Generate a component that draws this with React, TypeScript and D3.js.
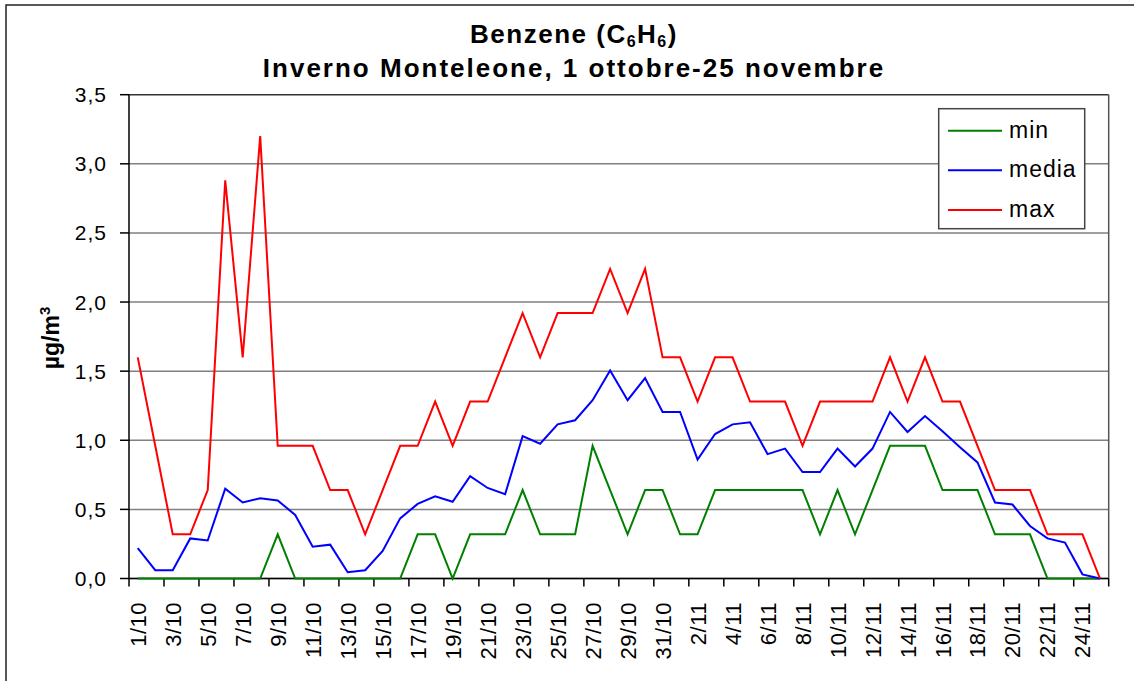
import React from "react";
import * as d3 from "d3";

const categories: string[] = [
  "1/10","2/10","3/10","4/10","5/10","6/10","7/10","8/10","9/10","10/10",
  "11/10","12/10","13/10","14/10","15/10","16/10","17/10","18/10","19/10","20/10",
  "21/10","22/10","23/10","24/10","25/10","26/10","27/10","28/10","29/10","30/10",
  "31/10","1/11","2/11","3/11","4/11","5/11","6/11","7/11","8/11","9/11",
  "10/11","11/11","12/11","13/11","14/11","15/11","16/11","17/11","18/11","19/11",
  "20/11","21/11","22/11","23/11","24/11","25/11"
];

const minValues: number[] = [
  0,0,0,0,0,0,0,0,0.32,0,
  0,0,0,0,0,0,0.32,0.32,0,0.32,
  0.32,0.32,0.64,0.32,0.32,0.32,0.96,0.64,0.32,0.64,
  0.64,0.32,0.32,0.64,0.64,0.64,0.64,0.64,0.64,0.32,
  0.64,0.32,0.64,0.96,0.96,0.96,0.64,0.64,0.64,0.32,
  0.32,0.32,0,0,0,0
];

const mediaValues: number[] = [
  0.22,0.06,0.06,0.29,0.275,0.65,0.55,0.58,0.565,0.46,
  0.23,0.245,0.045,0.06,0.2,0.435,0.54,0.595,0.555,0.74,
  0.655,0.61,1.03,0.975,1.115,1.145,1.29,1.505,1.29,1.45,
  1.205,1.205,0.86,1.045,1.115,1.13,0.9,0.94,0.77,0.77,
  0.94,0.81,0.94,1.205,1.06,1.175,1.065,0.95,0.84,0.55,
  0.535,0.38,0.29,0.26,0.03,0
];

const maxValues: number[] = [
  1.6,0.96,0.32,0.32,0.64,2.88,1.6,3.2,0.96,0.96,
  0.96,0.64,0.64,0.32,0.64,0.96,0.96,1.28,0.96,1.28,
  1.28,1.6,1.92,1.6,1.92,1.92,1.92,2.24,1.92,2.24,
  1.6,1.6,1.28,1.6,1.6,1.28,1.28,1.28,0.96,1.28,
  1.28,1.28,1.28,1.6,1.28,1.6,1.28,1.28,0.96,0.64,
  0.64,0.64,0.32,0.32,0.32,0
];

const yTicks: number[] = [0, 0.5, 1, 1.5, 2, 2.5, 3, 3.5];

const seriesList = [
  { name: "min", values: minValues, color: "#008000" },
  { name: "media", values: mediaValues, color: "#0000FF" },
  { name: "max", values: maxValues, color: "#FF0000" },
];

const FONT = "'Liberation Sans', Arial, sans-serif";

export default function App() {
  const left = 129, right = 1108.7, top = 94.7, bottom = 578.5;
  const x = d3.scaleBand<number>().domain(categories.map((_, i) => i)).range([left, right]).padding(0);
  const bw = x.bandwidth();
  const cx = (i: number) => (x(i) as number) + bw / 2;
  const y = d3.scaleLinear().domain([0, 3.5]).range([bottom, top]);
  const line = d3.line<number>().x((_, i) => cx(i)).y((d) => y(d));

  const boundaryTicks: number[] = [];
  for (let i = 0; i <= categories.length; i += 2) boundaryTicks.push(i);
  const tickX = (i: number) => (i < categories.length ? (x(i) as number) : right);

  const lgX = 938.7, lgY = 108.7, lgW = 146, lgH = 120;

  return (
    <svg width={1134} height={681} style={{ position: "absolute", left: 0, top: 0, background: "#fff" }} fontFamily={FONT}>
      <rect x={0} y={0} width={1134} height={681} fill="#fff" />
      <rect x={6} y={5} width={1140} height={700} fill="none" stroke="#222" strokeWidth={1.5} />

      {/* titles */}
      <text x={574} y={43.3} textAnchor="middle" fontWeight="bold" fontSize={26} letterSpacing={1.5}>
        Benzene (C<tspan fontSize={16} dy={4}>6</tspan><tspan dy={-4}>H</tspan><tspan fontSize={16} dy={4}>6</tspan><tspan dy={-4}>)</tspan>
      </text>
      <text x={574} y={76.7} textAnchor="middle" fontWeight="bold" fontSize={26} letterSpacing={2}>
        Inverno Monteleone, 1 ottobre-25 novembre
      </text>

      {/* gridlines */}
      {yTicks.map((t) => (
        <line key={"g" + t} x1={left} x2={right} y1={y(t)} y2={y(t)} stroke={t === 3.5 ? "#333" : "#808080"} strokeWidth={1.5} />
      ))}
      {/* plot right border */}
      <line x1={right} x2={right} y1={top} y2={bottom} stroke="#555" strokeWidth={1.5} />

      {/* y axis */}
      <line x1={left} x2={left} y1={top} y2={bottom} stroke="#000" strokeWidth={1.5} />
      {yTicks.map((t) => (
        <g key={"yt" + t}>
          <line x1={left - 9} x2={left} y1={y(t)} y2={y(t)} stroke="#000" strokeWidth={1.5} />
          <text x={107} y={y(t) + 7.5} textAnchor="end" fontSize={21} letterSpacing={1}>
            {t.toFixed(1).replace(".", ",")}
          </text>
        </g>
      ))}
      <text transform={`translate(59,338) rotate(-90)`} textAnchor="middle" fontWeight="bold" fontSize={23}>
        µg/m<tspan fontSize={15} dy={-9}>3</tspan>
      </text>

      {/* x axis */}
      <line x1={left} x2={right} y1={bottom} y2={bottom} stroke="#000" strokeWidth={1.5} />
      {boundaryTicks.map((i) => (
        <line key={"xt" + i} x1={tickX(i)} x2={tickX(i)} y1={bottom} y2={bottom + 8} stroke="#000" strokeWidth={1.5} />
      ))}
      {categories.map((c, i) =>
        i % 2 === 0 ? (
          <text key={"xl" + i} transform={`translate(${cx(i) + 8},602) rotate(-90)`} textAnchor="end" fontSize={22} letterSpacing={0.5}>
            {c}
          </text>
        ) : null
      )}

      {/* series */}
      {seriesList.map((s) => (
        <path key={s.name} d={line(s.values) || ""} fill="none" stroke={s.color} strokeWidth={2} strokeLinejoin="miter" />
      ))}

      {/* legend */}
      <rect x={lgX} y={lgY} width={lgW} height={lgH} fill="#fff" stroke="#444" strokeWidth={1.5} />
      {seriesList.map((s, k) => {
        const ly = 130.7 + k * 39.6;
        return (
          <g key={"lg" + s.name}>
            <line x1={948} x2={1002} y1={ly} y2={ly} stroke={s.color} strokeWidth={2} />
            <text x={1009} y={ly + 7} fontSize={23} letterSpacing={1}>
              {s.name}
            </text>
          </g>
        );
      })}
    </svg>
  );
}
